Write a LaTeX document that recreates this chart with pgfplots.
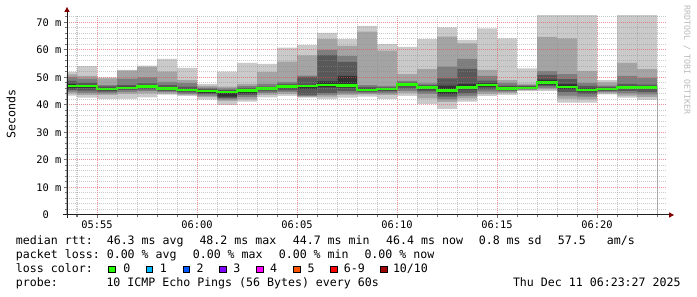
\documentclass[border=0pt]{standalone}
\usepackage{pgfplots}
\pgfplotsset{compat=1.18}
\usepackage{pgfplotstable}
\usepackage{fontspec}
\setmainfont{DejaVu Sans Mono}
\definecolor{s1}{HTML}{CACACA}
\definecolor{s2}{HTML}{A4A4A4}
\definecolor{s3}{HTML}{7E7E7E}
\definecolor{s4}{HTML}{585858}
\definecolor{s5}{HTML}{323232}
\definecolor{lc0}{HTML}{26FF00}
\definecolor{lc1}{HTML}{00B8FF}
\definecolor{lc2}{HTML}{0059FF}
\definecolor{lc3}{HTML}{7E00FF}
\definecolor{lc4}{HTML}{FF00FF}
\definecolor{lc5}{HTML}{FF5500}
\definecolor{lc6}{HTML}{FF0000}
\definecolor{lc10}{HTML}{A10000}
\definecolor{arrowred}{HTML}{800000}
\definecolor{mgrid}{HTML}{DE5050}
\definecolor{ngrid}{HTML}{8C8C8C}
\definecolor{axiscol}{HTML}{1F1F1F}
\pgfplotstableread{
x    c1   c2   c3   c4   c5   c6   c7   c8   c9   c10  med
53.5 43.4 44.2 44.8 45.4 46.0 47.6 48.7 50.1 51.1 52.0 46.9
54   42.6 43.6 44.4 45.2 46.2 47.3 48.1 49.5 50.5 54.1 46.9
55   42.1 43.6 44.2 44.8 45.3 46.2 46.7 47.2 49.6 50.0 45.7
56   42.2 44.0 44.6 45.4 45.9 46.6 47.2 49.5 52.4 52.7 46.2
57   42.7 44.2 45.0 45.6 46.2 47.0 47.8 50.0 53.8 54.3 46.6
58   43.7 44.1 44.6 45.0 45.5 46.3 47.2 48.4 52.1 56.7 45.9
59   43.2 43.6 44.0 44.5 45.0 45.8 46.6 47.9 49.0 53.4 45.4
60   41.9 42.8 43.4 43.9 44.4 45.4 45.9 46.3 46.9 47.6 45.0
61   39.9 41.5 42.0 42.5 43.0 45.0 45.4 46.0 46.6 52.1 44.7
62   41.2 42.0 42.8 43.5 44.2 45.6 46.2 46.8 47.6 55.3 45.2
63   42.7 43.6 44.3 44.9 45.4 46.2 46.6 47.6 51.9 54.9 45.9
64   43.3 44.0 44.7 45.3 46.0 47.1 47.6 48.4 55.7 60.8 46.7
65   42.6 42.9 43.2 43.6 45.8 47.3 50.2 50.6 58.0 61.7 46.8
66   42.1 43.0 43.6 44.3 46.4 48.5 58.1 60.0 63.9 66.2 47.2
67   42.6 43.5 44.2 45.0 46.3 50.5 55.6 57.8 61.4 63.9 47.1
68   43.0 43.8 44.2 44.6 45.0 45.9 46.5 47.2 66.6 68.7 45.4
69   42.1 43.5 44.2 44.9 45.3 46.1 46.4 46.9 59.7 62.1 45.8
70   43.3 44.3 45.0 46.0 46.8 47.9 48.2 48.7 51.2 61.1 47.5
71   40.3 42.4 44.0 44.9 45.6 46.8 47.2 47.8 53.0 63.9 46.4
72   38.5 41.0 42.0 43.0 44.0 47.0 49.6 53.9 64.8 68.2 45.2
73   41.2 42.4 43.3 44.2 45.6 47.6 53.1 56.7 62.3 63.6 46.4
74   43.2 43.9 44.8 45.6 46.5 47.8 48.8 50.5 52.7 67.8 47.2
75   43.6 44.3 44.8 45.2 45.6 46.6 47.0 48.0 49.0 64.2 46.0
76   45.1 45.3 45.5 45.7 45.9 46.5 46.8 47.2 47.7 53.3 46.2
77   45.0 45.6 46.2 46.8 47.4 49.2 50.9 52.3 64.7 80.0 48.2
78   40.8 42.3 43.4 44.6 45.8 47.5 49.4 51.2 64.2 80.0 46.5
79   40.8 42.0 43.0 44.0 44.9 46.0 46.9 48.0 52.3 80.0 45.4
80   43.8 44.2 44.6 45.0 45.4 46.1 46.5 47.0 48.2 49.0 45.8
81   42.6 43.4 44.2 45.0 45.8 46.8 47.6 50.5 55.3 80.0 46.3
82   41.8 42.8 43.8 44.6 45.7 46.8 47.4 49.8 53.0 80.0 46.4
83   41.8 42.8 43.8 44.6 45.7 46.8 47.4 49.8 53.0 80.0 46.4
}\smoke
\newcommand{\lgf}{\fontsize{11.6}{14}\selectfont}
\begin{document}
\begin{tikzpicture}[x=1pt,y=1pt]
\fill[white] (0,0) rectangle (697,297);
\useasboundingbox (0,0) rectangle (697,297);
\begin{axis}[
  at={(67pt,82pt)}, anchor=south west, scale only axis,
  width=600pt, height=200pt,
  xmin=53.5, xmax=83.5, ymin=0, ymax=72.65,
  axis x line*=bottom, axis y line*=left,
  axis line style={draw=none},
  xtick={55,60,65,70,75,80},
  xticklabels={05:55,06:00,06:05,06:10,06:15,06:20},
  minor xtick={54,56,57,58,59,61,62,63,64,66,67,68,69,71,72,73,74,76,77,78,79,81,82,83},
  ytick={0,10,20,30,40,50,60,70},
  yticklabels={0\hphantom{ m},10 m,20 m,30 m,40 m,50 m,60 m,70 m},
  minor ytick={2,4,6,8,12,14,16,18,22,24,26,28,32,34,36,38,42,44,46,48,52,54,56,58,62,64,66,68,72},
  grid=both,
  major grid style={draw=mgrid, opacity=0.6, dash pattern=on 1pt off 1pt, line width=1pt},
  minor grid style={draw=ngrid, opacity=0.45, dash pattern=on 1pt off 1pt, line width=1pt},
  tick align=outside, major tick length=3pt, minor tick length=2pt,
  tick style={draw=black!55, line width=1pt},
  ticklabel style={font=\fontsize{10.4}{12}\selectfont, text=black},
  xticklabel style={anchor=north, inner sep=0pt, yshift=-2.5pt},
  yticklabel style={anchor=east, inner sep=0pt, xshift=-2.5pt},
  axis on top,
]
\addplot[fill=s1, draw=none, const plot mark left] table[x=x,y=c10]{\smoke} \closedcycle;
\addplot[fill=s2, draw=none, const plot mark left] table[x=x,y=c9]{\smoke} \closedcycle;
\addplot[fill=s3, draw=none, const plot mark left] table[x=x,y=c8]{\smoke} \closedcycle;
\addplot[fill=s4, draw=none, const plot mark left] table[x=x,y=c7]{\smoke} \closedcycle;
\addplot[fill=s5, draw=none, const plot mark left] table[x=x,y=c6]{\smoke} \closedcycle;
\addplot[fill=s4, draw=none, const plot mark left] table[x=x,y=c5]{\smoke} \closedcycle;
\addplot[fill=s3, draw=none, const plot mark left] table[x=x,y=c4]{\smoke} \closedcycle;
\addplot[fill=s2, draw=none, const plot mark left] table[x=x,y=c3]{\smoke} \closedcycle;
\addplot[fill=s1, draw=none, const plot mark left] table[x=x,y=c2]{\smoke} \closedcycle;
\addplot[fill=white, draw=none, const plot mark left] table[x=x,y=c1]{\smoke} \closedcycle;
\addplot[draw=lc0, line width=2.6pt, const plot mark left, mark=none] table[x=x,y=med]{\smoke};
\end{axis}
% axis lines with arrows
\draw[axiscol, line width=1pt] (63,82) -- (669,82);
\draw[axiscol, line width=1pt] (67,79) -- (67,285);
\fill[arrowred] (669,79.3) -- (669,84.7) -- (674,82) -- cycle;
\fill[arrowred] (64.3,285) -- (69.7,285) -- (67,290) -- cycle;
% y label and watermark
\node[rotate=90, inner sep=0pt, font=\lgf] at (11,183) {Seconds};
\node[rotate=-90, inner sep=0pt, text=black!27, font=\fontsize{8.3}{10}\selectfont] at (687,237) {RRDTOOL / TOBI OETIKER};
% legend
\begin{scope}[every node/.style={anchor=base west, inner sep=0pt, font=\lgf}]
\node at (15.8,52) {median rtt:};
\node at (106.6,52) {46.3 ms avg};
\node at (199.3,52) {48.2 ms max};
\node at (292.6,52) {44.7 ms min};
\node at (386,52) {46.4 ms now};
\node at (478.6,52) {0.8 ms sd};
\node at (557.6,52) {57.5};
\node at (606.7,52) {am/s};
\node at (15.8,38) {packet loss:};
\node at (106.6,38) {0.00 \% avg};
\node at (192.6,38) {0.00 \% max};
\node at (278.6,38) {0.00 \% min};
\node at (364.3,38) {0.00 \% now};
\node at (15.8,24) {loss color:};
\node at (123.2,24) {0};
\node at (159.6,24) {1};
\node at (196.5,24) {2};
\node at (233.2,24) {3};
\node at (269.9,24) {4};
\node at (307.5,24) {5};
\node at (343.6,24) {6-9};
\node at (392.8,24) {10/10};
\node at (15.8,10.5) {probe:};
\node at (106.3,10.5) {10 ICMP Echo Pings (56 Bytes) every 60s};
\node at (512.8,10.5) {Thu Dec 11 06:23:27 2025};
\end{scope}
\foreach \bx/\bc in {108.3/lc0,145.7/lc1,182.7/lc2,219.3/lc3,256/lc4,293.3/lc5,330/lc6,380/lc10}{
  \filldraw[fill=\bc, draw=black, line width=1pt] (\bx+0.5,24.2) rectangle ++(6.7,6.7);
}
\end{tikzpicture}
\end{document}
